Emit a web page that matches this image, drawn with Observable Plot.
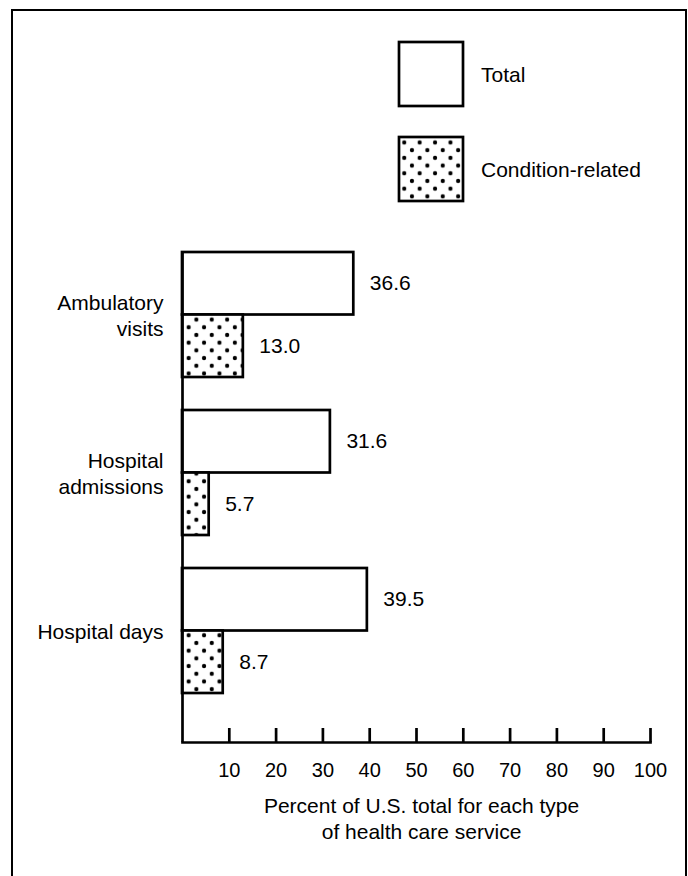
<!DOCTYPE html>
<html><head><meta charset="utf-8">
<script src="https://cdn.jsdelivr.net/npm/d3@7"></script>
<script src="https://cdn.jsdelivr.net/npm/@observablehq/plot@0.6"></script>
<style>
html,body{margin:0;padding:0;background:#fff;}
#wrap{position:relative;width:688px;height:876px;overflow:hidden;font-family:"Liberation Sans",Arial,sans-serif;}
#border{position:absolute;left:11px;top:9px;width:672px;height:900px;border:2px solid #000;}
#chart{position:absolute;left:0;top:0;}
#legend{position:absolute;left:0;top:0;}
</style></head>
<body><div id="wrap"><div id="border"></div><div id="chart"></div><svg id="legend" width="688" height="220"></svg></div>
<script>
// ---- data ----
const categories = ["Ambulatory visits", "Hospital admissions", "Hospital days"];
const categoryLabels = ["Ambulatory\nvisits", "Hospital\nadmissions", "Hospital days"];
const series = ["Total", "Condition-related"];
const totalValues = [36.6, 31.6, 39.5];
const conditionValues = [13.0, 5.7, 8.7];
const xTicks = [10, 20, 30, 40, 50, 60, 70, 80, 90, 100];
const axisLabelLines = ["Percent of U.S. total for each type", "of health care service"];

const rows = categories.flatMap((c, i) => [
  {category: c, series: series[0], value: totalValues[i]},
  {category: c, series: series[1], value: conditionValues[i]}
]);
const totalRows = rows.filter(d => d.series === series[0]);
const condRows = rows.filter(d => d.series === series[1]);

const W = 688, H = 876;
const FONT = '"Liberation Sans", Arial, sans-serif';
const M = {top: 252, bottom: 134, left: 182, right: 38};
const yScale = {domain: categories, paddingInner: 0.2075, paddingOuter: 0.1447, align: 0, axis: null};
const xScale = {domain: [0, 100], axis: null};

// first pass: get bandwidth
const probe = Plot.plot({width: W, height: H, marginTop: M.top, marginBottom: M.bottom, marginLeft: M.left, marginRight: M.right,
  x: xScale, y: yScale, marks: [Plot.barX(rows, {x: "value", y: "category"})]});
const bw = probe.scale("y").bandwidth;

const SW = 2.7;
const FS = 21;
const plot = Plot.plot({
  width: W, height: H,
  marginTop: M.top, marginBottom: M.bottom, marginLeft: M.left, marginRight: M.right,
  style: {fontFamily: FONT, fontSize: "20px", color: "#000", background: "transparent", overflow: "visible"},
  x: xScale, y: yScale,
  marks: [
    Plot.barX(totalRows, {x: "value", y: "category", fill: "white", stroke: "black", strokeWidth: SW, insetBottom: bw / 2}),
    Plot.barX(condRows, {x: "value", y: "category", fill: "url(#dots)", stroke: "black", strokeWidth: SW, insetTop: bw / 2}),
    Plot.text(totalRows, {x: "value", y: "category", text: d => d.value.toFixed(1), dx: 16, dy: -bw / 4, textAnchor: "start", fontSize: FS, fill: "black"}),
    Plot.text(condRows, {x: "value", y: "category", text: d => d.value.toFixed(1), dx: 16, dy: bw / 4, textAnchor: "start", fontSize: FS, fill: "black"}),
    Plot.ruleX([0], {stroke: "black", strokeWidth: SW}),
    Plot.frame({anchor: "bottom", stroke: "black", strokeWidth: SW}),
    Plot.axisX({ticks: xTicks, tickSize: -14, tickPadding: 34.5, tickFormat: d => String(d), fontSize: 20, strokeWidth: SW, label: null, fill: "black", stroke: "black"}),
    Plot.axisY({tickSize: 0, tickPadding: 19, tickFormat: d => categoryLabels[categories.indexOf(d)], fontSize: FS, lineHeight: 1.2, label: null, fill: "black"}),
    Plot.text([axisLabelLines.join("\n")], {text: d => d, frameAnchor: "bottom", dy: 53, dx: 5, lineAnchor: "top", lineHeight: 1.2, fontSize: FS, fill: "black"})
  ]
});
d3.select(plot).insert("defs", ":first-child").html(
  '<pattern id="dots" patternUnits="userSpaceOnUse" width="15.4" height="15.4">' +
  '<rect width="15.4" height="15.4" fill="white"/>' +
  '<circle cx="3.85" cy="3.85" r="2.1" fill="black"/>' +
  '<circle cx="11.55" cy="11.55" r="2.1" fill="black"/></pattern>');
document.getElementById("chart").appendChild(plot);

// legend
const lg = d3.select("#legend");
const legendFills = ["white", "url(#dots)"];
const legendTops = [42, 137];
series.forEach((s, i) => {
  lg.append("rect").attr("x", 399).attr("y", legendTops[i]).attr("width", 64).attr("height", 64)
    .attr("fill", legendFills[i]).attr("stroke", "black").attr("stroke-width", SW);
  lg.append("text").attr("x", 481).attr("y", legendTops[i] + 40).attr("font-family", FONT)
    .attr("font-size", FS).attr("fill", "black").text(s);
});
</script>
</body></html>
